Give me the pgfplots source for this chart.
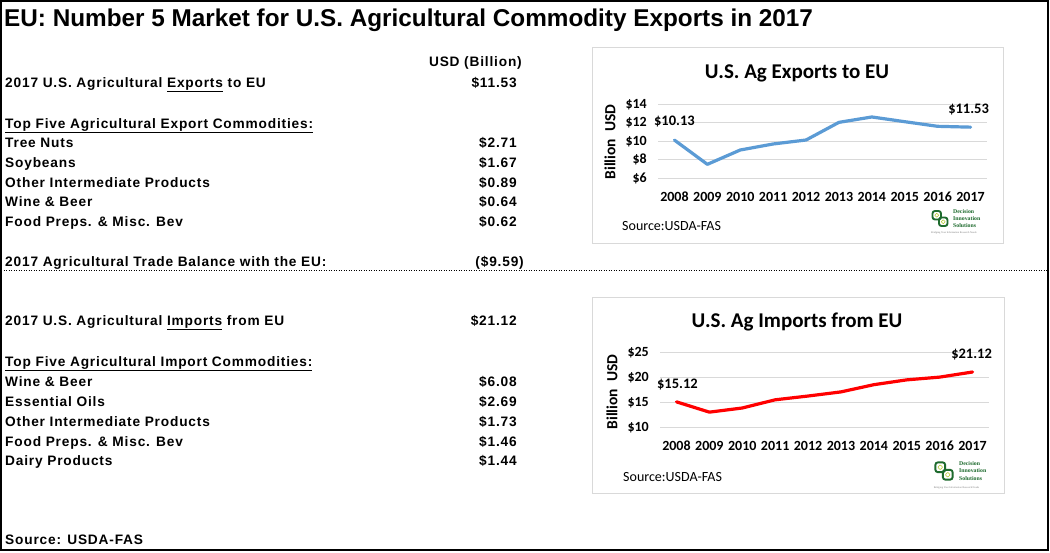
\documentclass[border=0pt]{standalone}
\usepackage{fontspec}
\setmainfont{Liberation Sans}
\newfontfamily\bodyfam{Liberation Sans}[LetterSpace=6]
\newfontfamily\calfam{Carlito}
\newfontfamily\logofam{Liberation Serif}
\usepackage{pgfplots}
\pgfplotsset{compat=1.18}
\definecolor{expblue}{HTML}{5B9BD5}
\definecolor{gridc}{HTML}{D9D9D9}
\definecolor{boxc}{HTML}{D9D9D9}
\definecolor{logog}{HTML}{1E6B2E}
\definecolor{logoy}{HTML}{B5C930}
\newcommand\B{\bodyfam\fontsize{13.7}{16}\selectfont\bfseries}
\newcommand\row[3]{\node[anchor=base west,inner sep=0pt] at (5,#1) {\B #2};\node[anchor=base east,inner sep=0pt] at (517,#1) {\B #3};}
\newcommand\logo[3]{%
\begin{scope}[shift={(#1,#2)},scale=#3]
\draw[logog,line width=1.9pt,rounded corners=2.5pt] (-7.5,-7.5) rectangle (1,1);
\draw[logog,line width=1.9pt,rounded corners=2.5pt] (-1,-1) rectangle (7.5,7.5);
\draw[logoy,line width=0.6pt,rounded corners=1.5pt] (-5,-5) rectangle (-1.5,-1.5);
\draw[logoy,line width=0.6pt,rounded corners=1.5pt] (1.5,1.5) rectangle (5,5);
\node[anchor=west,inner sep=0pt,text=logog,align=left,font=\logofam\bfseries\fontsize{5.8}{7.2}\selectfont] at (13,0) {Decision\\Innovation\\Solutions};
\node[anchor=west,inner sep=0pt,text=gray,font=\logofam\fontsize{2.6}{3}\selectfont] at (-9,14.5) {Bridging Your Information Research Needs};
\end{scope}}
\pgfplotsset{
  minichart/.style={
    anchor=south west, scale only axis, width=329pt,
    xmin=2007.5, xmax=2017.5,
    xtick={2008,2009,2010,2011,2012,2013,2014,2015,2016,2017},
    xticklabels={2008,2009,2010,2011,2012,2013,2014,2015,2016,2017},
    axis line style={draw=none}, major tick length=0pt,
    ymajorgrids, grid style={gridc,line width=0.9pt},
    tick label style={font=\calfam\bfseries\fontsize{14}{16}\selectfont, inner sep=0pt},
    yticklabel style={anchor=east}, yticklabel shift=11pt,
    xticklabel style={anchor=north}, xticklabel shift=13.5pt,
    clip=false,
  }
}
\begin{document}
\begin{tikzpicture}[x=1pt,y=-1pt]
\useasboundingbox (0,0) rectangle (1050,552);
\fill[white] (0,0) rectangle (1050,552);
\draw[line width=2pt] (1,1) rectangle (1048,549.5);
\node[anchor=base west,inner sep=0pt] at (4,26.5) {\fontsize{24.3}{28}\selectfont\bfseries EU: Number 5 Market for U.S. Agricultural Commodity Exports in 2017};
% left text, exports
\node[anchor=base east,inner sep=0pt] at (522,66) {\B USD (Billion)};
\row{87}{2017 U.S. Agricultural \underline{Exports} to EU}{\$11.53}
\node[anchor=base west,inner sep=0pt] at (5,128) {\B \underline{Top Five Agricultural Export Commodities:}};
\row{147}{Tree Nuts}{\$2.71}
\row{167}{Soybeans}{\$1.67}
\row{187}{Other Intermediate Products}{\$0.89}
\row{206}{Wine \& Beer}{\$0.64}
\row{226}{Food Preps. \& Misc. Bev}{\$0.62}
\node[anchor=base west,inner sep=0pt] at (5,266) {\B 2017 Agricultural Trade Balance with the EU:};
\node[anchor=base east,inner sep=0pt] at (524,266) {\B (\$9.59)};
\draw[line width=1pt,dash pattern=on 1pt off 1.5pt] (1,270.7) -- (1047,270.7);
% left text, imports
\row{325}{2017 U.S. Agricultural \underline{Imports} from EU}{\$21.12}
\node[anchor=base west,inner sep=0pt] at (5,366) {\B \underline{Top Five Agricultural Import Commodities:}};
\row{386}{Wine \& Beer}{\$6.08}
\row{406}{Essential Oils}{\$2.69}
\row{426}{Other Intermediate Products}{\$1.73}
\row{446}{Food Preps. \& Misc. Bev}{\$1.46}
\row{465}{Dairy Products}{\$1.44}
\node[anchor=base west,inner sep=0pt] at (5,544) {\B Source: USDA-FAS};
% exports chart
\draw[boxc,line width=1pt] (592,47.5) rectangle (1003,243);
\node at (797,73) {\calfam\bfseries\fontsize{21}{24}\selectfont U.S. Ag Exports to EU};
\node[rotate=90] at (610,142) {\calfam\bfseries\fontsize{15.5}{17}\selectfont Billion\ \ USD};
\node[anchor=west,inner sep=0pt] at (622,226) {\calfam\fontsize{14}{16}\selectfont Source:USDA-FAS};
\begin{axis}[minichart, at={(658pt,-178.3pt)}, height=74pt,
  ymin=6, ymax=14, ytick={6,8,10,12,14}, yticklabels={\$6,\$8,\$10,\$12,\$14}]
\addplot[expblue, line width=3.2pt, line join=round, line cap=round] coordinates {
(2008,10.13) (2009,7.51) (2010,9.06) (2011,9.71) (2012,10.14)
(2013,12.05) (2014,12.63) (2015,12.12) (2016,11.62) (2017,11.53)};
\node[font=\calfam\bfseries\fontsize{14.5}{16}\selectfont,yshift=18.8pt] at (axis cs:2008,10.13) {\$10.13};
\node[font=\calfam\bfseries\fontsize{14.5}{16}\selectfont,yshift=17.8pt,xshift=-2pt] at (axis cs:2017,11.53) {\$11.53};
\end{axis}
\logo{940}{218.5}{1}
% imports chart
\draw[boxc,line width=1pt] (592,297) rectangle (1004,493);
\node at (797,322) {\calfam\bfseries\fontsize{21}{24}\selectfont U.S. Ag Imports from EU};
\node[rotate=90] at (612,392) {\calfam\bfseries\fontsize{15.5}{17}\selectfont Billion\ \ USD};
\node[anchor=west,inner sep=0pt] at (623,477) {\calfam\fontsize{14}{16}\selectfont Source:USDA-FAS};
\begin{axis}[minichart, at={(660pt,-427.3pt)}, height=74.6pt,
  ymin=10, ymax=25, ytick={10,15,20,25}, yticklabels={\$10,\$15,\$20,\$25}]
\addplot[red, line width=3.2pt, line join=round, line cap=round] coordinates {
(2008,15.12) (2009,13.05) (2010,13.88) (2011,15.53) (2012,16.29)
(2013,17.12) (2014,18.57) (2015,19.54) (2016,20.09) (2017,21.12)};
\node[font=\calfam\bfseries\fontsize{14.5}{16}\selectfont,yshift=17.8pt,xshift=1pt] at (axis cs:2008,15.12) {\$15.12};
\node[font=\calfam\bfseries\fontsize{14.5}{16}\selectfont,yshift=17pt,xshift=-1pt] at (axis cs:2017,21.12) {\$21.12};
\end{axis}
\logo{944}{471}{1.15}
\end{tikzpicture}
\end{document}
